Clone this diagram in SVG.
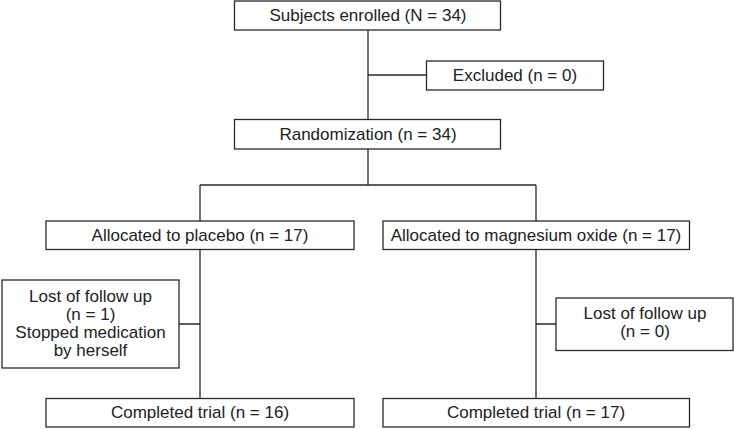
<svg xmlns="http://www.w3.org/2000/svg" width="735" height="429" viewBox="0 0 735 429">
<style>
.box{fill:#fff;stroke:#2a2a2a;stroke-width:1.3}
.ln{fill:none;stroke:#2a2a2a;stroke-width:1.3}
text{font-family:"Liberation Sans",Arial,sans-serif;font-size:17px;fill:#222;text-anchor:middle}
</style>
<rect width="735" height="429" fill="#fff"/>
<g id="connectors">
<path class="ln" d="M368 30V119M368 75H426M368 149V185M200 185H536M200 185V221M536 185V221M200 249V398M179 324H200M536 249V398M536 324H556"/>
</g>
<g id="enrolled"><rect class="box" x="234.5" y="1" width="266" height="29"/><text x="368" y="21">Subjects enrolled (N = 34)</text></g>
<g id="excluded"><rect class="box" x="426.5" y="61" width="177" height="29"/><text x="515" y="81">Excluded (n = 0)</text></g>
<g id="randomization"><rect class="box" x="234.5" y="119.5" width="266" height="29.5"/><text x="368" y="140">Randomization (n = 34)</text></g>
<g id="placebo"><rect class="box" x="46" y="221" width="308" height="28.5"/><text x="200" y="241">Allocated to placebo (n = 17)</text></g>
<g id="magnesium"><rect class="box" x="383" y="221" width="306.5" height="28.5"/><text x="536" y="241">Allocated to magnesium oxide (n = 17)</text></g>
<g id="lost-placebo"><rect class="box" x="2" y="280" width="177" height="88"/><text x="90.5" y="302">Lost of follow up</text><text x="90.5" y="320">(n = 1)</text><text x="90.5" y="338">Stopped medication</text><text x="90.5" y="356">by herself</text></g>
<g id="lost-magnesium"><rect class="box" x="556" y="298" width="177" height="52.5"/><text x="645" y="319">Lost of follow up</text><text x="645" y="337">(n = 0)</text></g>
<g id="completed-placebo"><rect class="box" x="46" y="398.5" width="308" height="28.5"/><text x="200" y="418">Completed trial (n = 16)</text></g>
<g id="completed-magnesium"><rect class="box" x="383" y="398.5" width="306.5" height="28.5"/><text x="536" y="418">Completed trial (n = 17)</text></g>
</svg>
